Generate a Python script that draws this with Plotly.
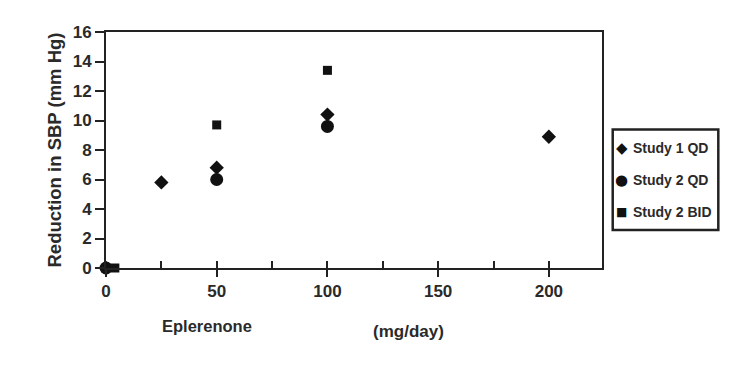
import plotly.graph_objects as go

# Data
s1_dose = [0, 25, 50, 100, 200]
s1_red = [0, 5.8, 6.8, 10.4, 8.9]
s2qd_dose = [0, 50, 100]
s2qd_red = [0, 6.0, 9.6]
s2bid_dose = [4, 50, 100]
s2bid_red = [0, 9.7, 13.4]

series_names = ["Study 1 QD", "Study 2 QD", "Study 2 BID"]
series_symbols = ["◆", "●", "■"]

x_ticks = [0, 50, 100, 150, 200]
x_minor = [25, 50, 75, 100, 125, 150, 175, 200]
y_ticks = [0, 2, 4, 6, 8, 10, 12, 14, 16]

FONT = "Liberation Sans, Arial, sans-serif"
TXT = "#2a2a2a"
MK = "#111111"

fig = go.Figure()
fig.add_trace(go.Scatter(x=s1_dose, y=s1_red, mode="markers", name=series_names[0],
                         marker=dict(symbol="diamond", size=11, color=MK),
                         cliponaxis=False))
fig.add_trace(go.Scatter(x=s2qd_dose, y=s2qd_red, mode="markers", name=series_names[1],
                         marker=dict(symbol="circle", size=13, color=MK),
                         cliponaxis=False))
fig.add_trace(go.Scatter(x=s2bid_dose, y=s2bid_red, mode="markers", name=series_names[2],
                         marker=dict(symbol="square", size=9, color=MK),
                         cliponaxis=False))
# invisible trace to activate overlay axis for inside ticks
fig.add_trace(go.Scatter(x=[None], y=[None], xaxis="x2", showlegend=False, hoverinfo="skip"))

# manual legend (box + entries)
leg_rows = [0.507, 0.372, 0.238]
sym_sizes = [15, 15, 12]
annotations = []
for name, sym, yy, ss in zip(series_names, series_symbols, leg_rows, sym_sizes):
    annotations.append(dict(text=sym, xref="paper", yref="paper", x=1.0403, y=yy,
                            showarrow=False, xanchor="center", yanchor="middle",
                            font=dict(family="DejaVu Sans", size=ss, color=MK)))
    annotations.append(dict(text=f"<b>{name}</b>", xref="paper", yref="paper", x=1.058, y=yy,
                            showarrow=False, xanchor="left", yanchor="middle",
                            font=dict(size=14, color=TXT)))
annotations += [
    dict(text="<b>Eplerenone</b>", xref="paper", yref="paper", x=0.2036, y=-0.245,
         showarrow=False, font=dict(size=16.5, color=TXT), xanchor="center", yanchor="middle"),
    dict(text="<b>(mg/day)</b>", xref="paper", yref="paper", x=0.609, y=-0.27,
         showarrow=False, font=dict(size=17, color=TXT), xanchor="center", yanchor="middle"),
]

fig.update_layout(
    width=729, height=377,
    margin=dict(l=98, r=135, t=24, b=117),
    paper_bgcolor="white", plot_bgcolor="white",
    font=dict(family=FONT, color=TXT, size=15),
    showlegend=False,
    xaxis=dict(range=[0, 224], tickvals=x_ticks, ticktext=[f"<b>{v}</b>" for v in x_ticks],
               ticks="outside", ticklen=7, tickwidth=1.5, tickcolor="#222",
               showline=True, linewidth=2, linecolor="#222", mirror=True,
               showgrid=False, zeroline=False, automargin=False,
               tickfont=dict(size=17, color=TXT)),
    xaxis2=dict(overlaying="x", matches="x", anchor="y", side="bottom",
                tickvals=x_minor, ticks="inside", ticklen=7, tickwidth=1.5, tickcolor="#222",
                showticklabels=False, showline=False, showgrid=False, zeroline=False,
                automargin=False),
    yaxis=dict(range=[0, 16], tickvals=y_ticks, ticktext=[f"<b>{v}</b>" for v in y_ticks],
               ticks="outside", ticklen=9, tickwidth=1.5, tickcolor="#222",
               showline=True, linewidth=2, linecolor="#222", mirror=True,
               showgrid=False, zeroline=False, automargin=False,
               tickfont=dict(size=17, color=TXT),
               title=dict(text="<b>Reduction in SBP (mm Hg)</b>", font=dict(size=18.5, color=TXT),
                          standoff=6)),
    shapes=[dict(type="rect", xref="paper", yref="paper", x0=1.0216, x1=1.2345,
                 y0=0.161, y1=0.587, line=dict(color="#222222", width=2.5),
                 fillcolor="rgba(0,0,0,0)")],
    annotations=annotations,
)

fig.write_html("out.html")
